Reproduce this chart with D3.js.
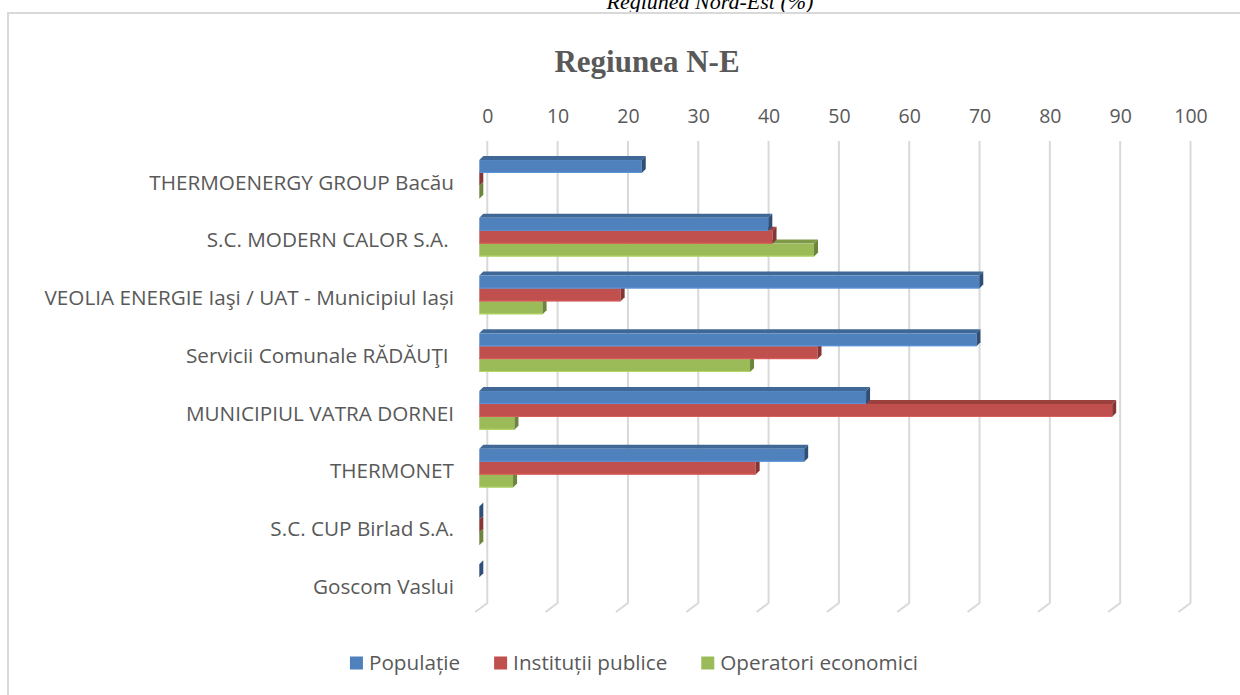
<!DOCTYPE html>
<html>
<head>
<meta charset="utf-8">
<script src="https://cdn.jsdelivr.net/npm/d3@7"></script>
<style>
  html, body { margin: 0; padding: 0; background: #ffffff; }
  svg { display: block; }
</style>
</head>
<body>
<svg id="chart" width="1240" height="695"></svg>
<script>
// ---- data ----
const categories = [
  "THERMOENERGY GROUP Bacău",
  "S.C. MODERN CALOR S.A. ",
  "VEOLIA ENERGIE Iaşi / UAT - Municipiul Iași",
  "Servicii Comunale RĂDĂUŢI ",
  "MUNICIPIUL VATRA DORNEI",
  "THERMONET",
  "S.C. CUP Birlad S.A.",
  "Goscom Vaslui"
];
const seriesNames = ["Populație", "Instituții publice", "Operatori economici"];
const populatie = [23.1, 41.1, 71.1, 70.7, 55.0, 46.2, 0, 0];
const institutii = [0, 41.7, 20.1, 48.1, 90.0, 39.3, 0, null];
const operatori = [0, 47.6, 9.0, 38.5, 5.0, 4.8, 0, null];
const tickValues = [0, 10, 20, 30, 40, 50, 60, 70, 80, 90, 100];
const chartTitle = "Regiunea N-E";
const captionTitle = "Regiunea Nord-Est (%)";

// ---- styles ----
const colors = [
  { front: "#4F81BD", top: "#3F6897", side: "#2F4F78" },
  { front: "#C0504D", top: "#9C403D", side: "#853533" },
  { front: "#9BBB59", top: "#7E9A47", side: "#6C843B" }
];
const textColor = "#595959";
const gridColor = "#D9D9D9";
const labelFont = "'Open Sans', sans-serif";
const labelSize = 20.7;

const svg = d3.select("#chart");

// caption above the chart frame (cut by the top of the page, as in the source)
svg.append("text")
  .attr("x", 710).attr("y", 9)
  .attr("text-anchor", "middle")
  .attr("font-family", "'Liberation Serif', 'Times New Roman', serif")
  .attr("font-style", "italic")
  .attr("font-size", 22)
  .attr("fill", "#000")
  .text(captionTitle);

// chart frame (top and left edges visible)
svg.append("path")
  .attr("d", "M8,695 V13 H1240")
  .attr("fill", "none")
  .attr("stroke", gridColor)
  .attr("stroke-width", 2);

// title
svg.append("text")
  .attr("x", 647).attr("y", 72)
  .attr("text-anchor", "middle")
  .attr("font-family", "'Liberation Serif', 'Times New Roman', serif")
  .attr("font-weight", "bold")
  .attr("font-size", 31)
  .attr("fill", textColor)
  .text(chartTitle);

// ---- scales ----
const x = d3.scaleLinear().domain([0, 100]).range([487.3, 1190.5]);
const y = d3.scaleBand().domain(categories).range([141, 603]).paddingInner(0).paddingOuter(0);
const bw = y.bandwidth();

// 3D projection parameters
const wallDx = -12, wallDy = 9;     // floor depth (gridline foot)
const frontDx = -8;                 // bars sit toward the front
const depthDx = 4, depthDy = -4;    // bar thickness in depth
const barH = bw * 0.2235;
const groupOffset = bw * 0.33;

// gridlines on back wall with foot on the floor
const grid = svg.append("g");
tickValues.forEach(t => {
  const gx = x(t);
  grid.append("path")
    .attr("d", `M${gx},${y.range()[0]} V${y.range()[1]} l${wallDx},${wallDy}`)
    .attr("fill", "none")
    .attr("stroke", gridColor)
    .attr("stroke-width", 2);
});

// top axis via d3.axisTop (labels only)
const axis = d3.axisTop(x).tickValues(tickValues).tickSize(0).tickPadding(0).tickFormat(d3.format("d"));
const axisG = svg.append("g").attr("transform", "translate(0,123)").call(axis);
axisG.select(".domain").remove();
axisG.selectAll("text")
  .attr("font-family", labelFont)
  .attr("font-size", 19.5)
  .attr("fill", textColor)
  .attr("dy", 0);

// ---- bars ----
const series = [populatie, institutii, operatori];
const barsG = svg.append("g");
const x0f = x(0) + frontDx;

categories.forEach((cat, ci) => {
  const gTop = y(cat) + groupOffset;
  // draw bottom series first so upper bars cover the top faces below
  for (let si = series.length - 1; si >= 0; si--) {
    const v = series[si][ci];
    if (v === null || v === undefined) continue;
    const yt = gTop + si * barH;
    const yb = yt + barH;
    const xe = x(v) + frontDx;
    const c = colors[si];
    const g = barsG.append("g");
    if (xe > x0f) {
      // top face
      g.append("path")
        .attr("d", `M${x0f},${yt} L${x0f + depthDx},${yt + depthDy} L${xe + depthDx},${yt + depthDy} L${xe},${yt} Z`)
        .attr("fill", c.top);
      // front face
      g.append("rect")
        .attr("x", x0f).attr("y", yt)
        .attr("width", xe - x0f).attr("height", barH)
        .attr("fill", c.front);
      g.append("line")
        .attr("x1", x0f).attr("x2", xe)
        .attr("y1", yb - 0.5).attr("y2", yb - 0.5)
        .attr("stroke", d3.color(c.front).brighter(0.4))
        .attr("stroke-width", 1);
    }
    // side (end) face
    g.append("path")
      .attr("d", `M${xe},${yt} L${xe + depthDx},${yt + depthDy} L${xe + depthDx},${yb + depthDy} L${xe},${yb} Z`)
      .attr("fill", c.side);
  }
});

// category labels
const labelsG = svg.append("g");
categories.forEach(cat => {
  const cy = y(cat) + groupOffset + barH * 1.5 + 3;
  labelsG.append("text")
    .attr("x", 454)
    .attr("y", cy)
    .attr("dy", "0.35em")
    .attr("text-anchor", "end")
    .attr("font-family", labelFont)
    .attr("font-size", labelSize)
    .attr("fill", textColor)
    .attr("xml:space", "preserve")
    .style("white-space", "pre")
    .text(cat);
});

// ---- legend ----
const legendG = svg.append("g");
const sq = 13, gapText = 6, gapItem = 34, legendY = 663;
const items = [];
let cursor = 0;
seriesNames.forEach((name, i) => {
  const it = legendG.append("g");
  it.append("rect").attr("x", 0).attr("y", -sq / 2).attr("width", sq).attr("height", sq).attr("fill", colors[i].front);
  const t = it.append("text")
    .attr("x", sq + gapText).attr("y", 0).attr("dy", "0.35em")
    .attr("font-family", labelFont).attr("font-size", labelSize).attr("fill", textColor)
    .text(name);
  const w = sq + gapText + t.node().getComputedTextLength();
  items.push({ it, offset: cursor });
  cursor += w + gapItem;
});
const totalW = cursor - gapItem;
const startX = 634 - totalW / 2;
items.forEach(d => d.it.attr("transform", `translate(${startX + d.offset},${legendY})`));
</script>
</body>
</html>
